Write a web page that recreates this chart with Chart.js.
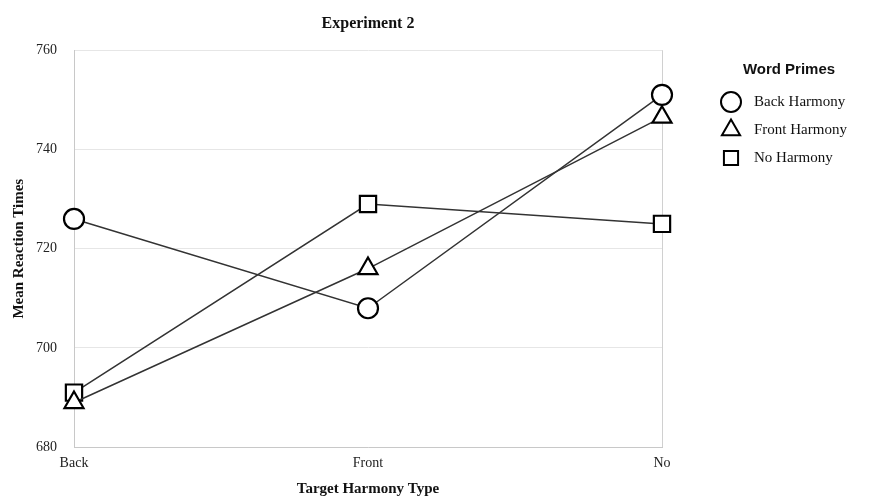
<!DOCTYPE html>
<html>
<head>
<style>
  html, body { margin: 0; padding: 0; background: #fff; }
  #wrap { width: 875px; height: 498px; }
</style>
</head>
<body>
<div id="wrap">
  <canvas id="myChart"></canvas>
</div>
<script src="https://cdn.jsdelivr.net/npm/chart.js"></script>
<script>

const categories = ['Back', 'Front', 'No'];
const backHarmony = [726, 708, 751];
const frontHarmony = [689, 716, 746.5];
const noHarmony = [691, 729, 725];
const yTicks = [680, 700, 720, 740, 760];

const serif = 'Liberation Serif, Times New Roman, serif';
const sans = 'Liberation Sans, Arial, sans-serif';

function series(label, data, style, radius) {
  return {
    label: label,
    data: data,
    borderColor: '#333',
    borderWidth: 1.5,
    pointStyle: style,
    pointRadius: radius,
    pointHoverRadius: radius,
    pointBackgroundColor: '#fff',
    pointBorderColor: '#000',
    pointBorderWidth: 2.2,
    tension: 0
  };
}

// legend drawn by hand so it sits apart from the plot like the original
const legendSizes = { circle: 10, triangle: 10.5, rect: 10 };
const sideLegend = {
  id: 'sideLegend',
  afterDraw(chart) {
    const ctx = chart.ctx;
    ctx.save();
    ctx.fillStyle = '#111';
    ctx.textBaseline = 'middle';
    ctx.font = 'bold 15px ' + sans;
    ctx.textAlign = 'center';
    ctx.fillText('Word Primes', 789, 70);
    ctx.textAlign = 'left';
    ctx.font = '15px ' + serif;
    const ys = [102, 130, 158];
    chart.data.datasets.forEach(function(ds, i) {
      ctx.strokeStyle = '#000';
      ctx.fillStyle = '#fff';
      ctx.lineWidth = 2;
      Chart.helpers.drawPoint(ctx, { pointStyle: ds.pointStyle, radius: legendSizes[ds.pointStyle], borderWidth: 2 }, 731, ys[i]);
      ctx.fillStyle = '#111';
      ctx.fillText(ds.label, 754, ys[i]);
    });
    ctx.restore();
  }
};

new Chart('myChart', {
  type: 'line',
  data: {
    labels: categories,
    datasets: [
      series('Back Harmony', backHarmony, 'circle', 10),
      series('Front Harmony', frontHarmony, 'triangle', 11),
      series('No Harmony', noHarmony, 'rect', 11.5)
    ]
  },
  options: {
    responsive: true,
    maintainAspectRatio: false,
    animation: false,
    layout: { padding: { left: 10, right: 213, top: 14, bottom: 0 } },
    plugins: {
      legend: { display: false },
      tooltip: { enabled: false },
      title: {
        display: true,
        text: 'Experiment 2',
        fullSize: false,
        color: '#111',
        font: { family: serif, size: 16, weight: 'bold' },
        padding: { top: 0, bottom: 17 }
      }
    },
    scales: {
      x: {
        offset: false,
        grid: {
          drawTicks: false,
          color: function(c) { return c.index === 1 ? 'rgba(0,0,0,0)' : '#d0d0d0'; }
        },
        border: { color: '#c8c8c8' },
        ticks: { color: '#222', padding: 8, font: { family: serif, size: 14 } },
        title: {
          display: true,
          text: 'Target Harmony Type',
          color: '#111',
          font: { family: serif, size: 15, weight: 'bold' },
          padding: { top: 0, bottom: 0 }
        }
      },
      y: {
        min: 680,
        max: 760,
        afterBuildTicks: function(axis) { axis.ticks = yTicks.map(function(v) { return { value: v }; }); },
        grid: { drawTicks: false, color: '#e6e6e6' },
        border: { color: '#c8c8c8' },
        ticks: { color: '#222', padding: 17, font: { family: serif, size: 14 } },
        title: {
          display: true,
          text: 'Mean Reaction Times',
          color: '#111',
          font: { family: serif, size: 15, weight: 'bold' },
          padding: { top: 0, bottom: -9 }
        }
      }
    }
  },
  plugins: [sideLegend]
});

</script>
</body>
</html>
